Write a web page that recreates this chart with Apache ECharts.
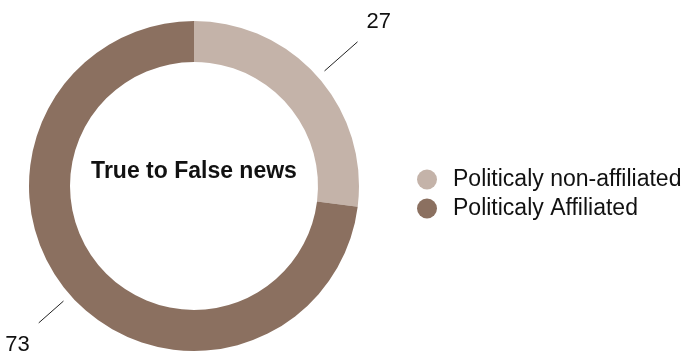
<!DOCTYPE html>
<html>
<head>
<meta charset="utf-8">
<script src="https://cdn.jsdelivr.net/npm/echarts@6/dist/echarts.min.js"></script>
<style>
  html, body { margin: 0; padding: 0; background: #ffffff; }
  #chart { width: 690px; height: 355px; }
</style>
</head>
<body>
<div id="chart"></div>
<script>
// Share of true-to-false news by political affiliation
const categories = ['Politicaly non-affiliated', 'Politicaly Affiliated'];
const shares = [27, 73];
const chartTitle = 'True to False news';

const colors = ['#c4b3a9', '#8b7060'];
const FONT = '"Liberation Sans", Arial, Helvetica, sans-serif';
const CENTER = [194, 186];

// Leader-line lengths and label nudges for each slice
const leaderLength = [44, 33];
const labelPadding = [[0, 0, 40, 0], [44, 0, 0, 0]];

const ringData = categories.map((name, i) => ({
  name: name,
  value: shares[i],
  itemStyle: { color: colors[i] }
}));

const labelData = categories.map((name, i) => ({
  name: name,
  value: shares[i],
  label: {
    distanceToLabelLine: 9,
    rich: { v: { fontFamily: FONT, fontSize: 22, color: '#111111', padding: labelPadding[i] } }
  },
  labelLine: { length: leaderLength[i], length2: 0 }
}));

const chart = echarts.init(document.getElementById('chart'), null, { renderer: 'canvas' });

chart.setOption({
  animation: false,
  backgroundColor: '#ffffff',
  title: {
    text: chartTitle,
    left: CENTER[0],
    top: 160,
    padding: 0,
    textAlign: 'center',
    textStyle: { fontFamily: FONT, fontSize: 23, fontWeight: 'bold', color: '#111111' }
  },
  legend: {
    orient: 'vertical',
    left: 417,
    top: 168,
    icon: 'circle',
    itemWidth: 20,
    itemHeight: 20,
    itemGap: 6,
    padding: 0,
    data: categories,
    selectedMode: false,
    textStyle: { fontFamily: FONT, fontSize: 23, color: '#111111', padding: [0, 0, 0, 11] }
  },
  series: [
    {
      type: 'pie',
      name: 'ring',
      center: CENTER,
      radius: [124, 165],
      startAngle: 90,
      clockwise: true,
      silent: true,
      label: { show: false },
      labelLine: { show: false },
      emphasis: { disabled: true },
      data: ringData
    },
    {
      type: 'pie',
      name: 'values',
      center: CENTER,
      radius: [0, 174],
      startAngle: 90,
      clockwise: true,
      silent: true,
      avoidLabelOverlap: false,
      itemStyle: { color: 'rgba(0,0,0,0)' },
      label: {
        show: true,
        position: 'outside',
        formatter: '{v|{c}}',
        fontFamily: FONT,
        fontSize: 22,
        color: '#111111'
      },
      labelLine: {
        show: true,
        lineStyle: { color: '#222222', width: 1 }
      },
      emphasis: { disabled: true },
      data: labelData
    }
  ]
});
</script>
</body>
</html>
